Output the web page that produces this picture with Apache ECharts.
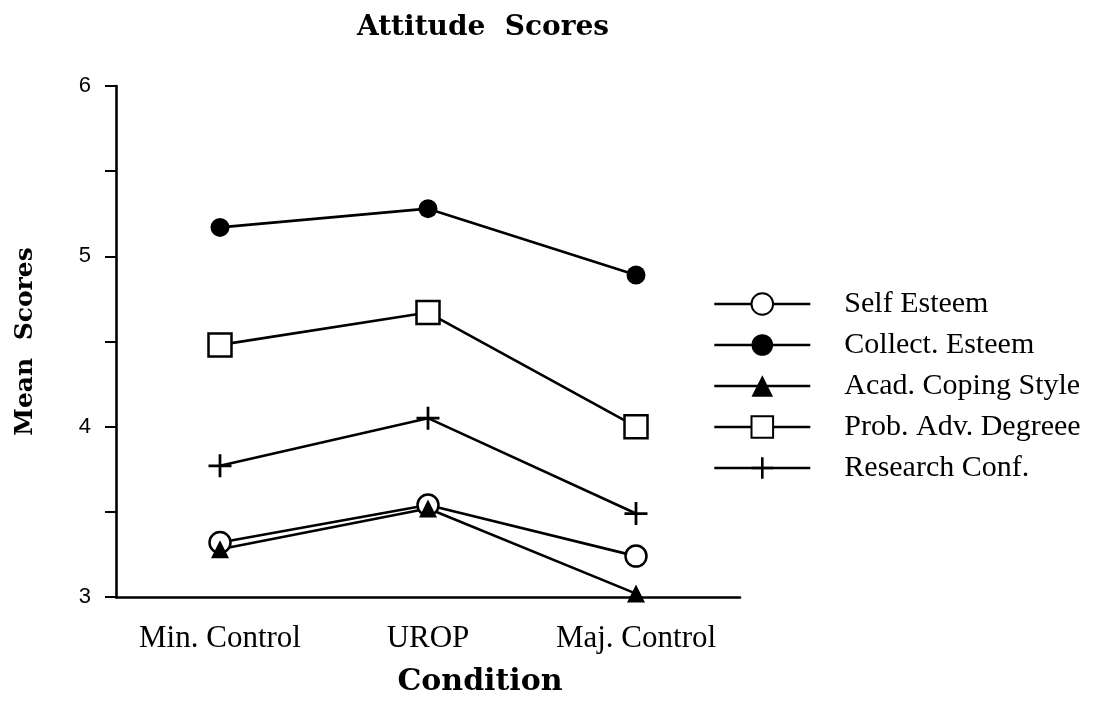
<!DOCTYPE html>
<html>
<head>
<meta charset="utf-8">
<script src="https://cdn.jsdelivr.net/npm/echarts@6/dist/echarts.min.js"></script>
<style>
  html, body { margin: 0; padding: 0; background: #fff; }
  #chart { width: 1104px; height: 710px; }
</style>
</head>
<body>
<div id="chart"></div>
<script>
// data
const conditions = ['Min. Control', 'UROP', 'Maj. Control']
const selfEsteem = [3.32, 3.54, 3.24]
const collectEsteem = [5.17, 5.28, 4.89]
const acadCoping = [3.28, 3.52, 3.02]
const probAdvDegree = [4.48, 4.67, 4.00]
const researchConf = [3.77, 4.05, 3.49]

const serif = '"Liberation Serif", "DejaVu Serif", serif'
const boldSerif = '"DejaVu Serif", "Liberation Serif", serif'
const plusPath = 'path://M4.4,0h1.2v4.4h4.4v1.2h-4.4v4.4h-1.2v-4.4h-4.4v-1.2h4.4z'

function line(name, data, symbol, size, fill) {
    return {
        name: name,
        type: 'line',
        data: data,
        symbol: symbol,
        symbolSize: size,
        showSymbol: true,
        lineStyle: { color: '#000', width: 2.6 },
        itemStyle: {
            color: fill,
            borderColor: '#000',
            borderWidth: fill === '#fff' ? 2.5 : 0
        },
        emphasis: { disabled: true },
        animation: false
    }
}

const chart = echarts.init(document.getElementById('chart'))
chart.setOption({
    backgroundColor: '#fff',
    title: {
        text: 'Attitude  Scores',
        left: 478,
        textAlign: 'center',
        top: 9,
        textStyle: { fontFamily: boldSerif, fontSize: 28, fontWeight: 'bold', color: '#000' }
    },
    grid: { left: 116, top: 86, width: 624, bottom: 113 },
    legend: {
        orient: 'vertical',
        left: 708,
        top: 284,
        itemWidth: 96,
        itemHeight: 27,
        itemGap: 11,
        lineStyle: { width: 2.6 },
        textStyle: { fontFamily: serif, fontSize: 30, color: '#000', padding: [0, 0, 0, 29] },
        data: ['Self Esteem', 'Collect. Esteem', 'Acad. Coping Style', 'Prob. Adv. Degreee', 'Research Conf.']
    },
    xAxis: {
        type: 'category',
        data: conditions,
        boundaryGap: true,
        name: 'Condition',
        nameLocation: 'middle',
        nameGap: 70,
        nameMoveOverlap: false,
        nameTextStyle: {
            fontFamily: boldSerif, fontSize: 30, fontWeight: 'bold', color: '#000',
            padding: [0, 0, 0, 104]
        },
        axisLine: { lineStyle: { color: '#000', width: 2.6 } },
        axisTick: { alignWithLabel: true, length: 10, lineStyle: { color: '#000', width: 2 } },
        axisLabel: { fontFamily: serif, fontSize: 31, color: '#000', margin: 26, interval: 0, hideOverlap: false },
        splitLine: { show: false }
    },
    yAxis: {
        type: 'value',
        min: 3,
        max: 6,
        interval: 0.5,
        name: 'Mean  Scores',
        nameLocation: 'middle',
        nameGap: 78,
        nameTextStyle: { fontFamily: boldSerif, fontSize: 25, fontWeight: 'bold', color: '#000' },
        axisLine: { show: true, lineStyle: { color: '#000', width: 2.6 } },
        axisTick: { show: true, length: 11, lineStyle: { color: '#000', width: 2 } },
        axisLabel: {
            fontFamily: '"Liberation Sans", Arial, sans-serif',
            fontSize: 22,
            color: '#000',
            margin: 25,
            formatter: v => (Number.isInteger(v) ? String(v) : '')
        },
        splitLine: { show: false }
    },
    series: [
        line('Self Esteem', selfEsteem, 'circle', 21, '#fff'),
        line('Collect. Esteem', collectEsteem, 'circle', 19, '#000'),
        line('Acad. Coping Style', acadCoping, 'triangle', 18, '#000'),
        line('Prob. Adv. Degreee', probAdvDegree, 'rect', 23, '#fff'),
        line('Research Conf.', researchConf, plusPath, 23, '#000')
    ]
})
</script>
</body>
</html>
